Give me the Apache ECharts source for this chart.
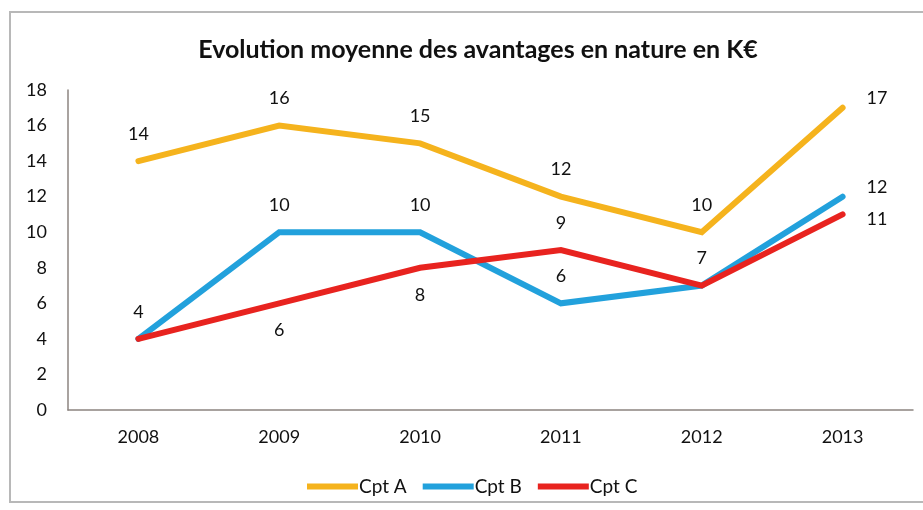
<!DOCTYPE html>
<html>
<head>
<meta charset="utf-8">
<script src="https://cdn.jsdelivr.net/npm/echarts@6/dist/echarts.min.js"></script>
<style>
  html, body { margin: 0; padding: 0; background: #fff; }
  .box { width: 923px; height: 510px; }
</style>
</head>
<body>
<div class="box"></div>
<script>
  // data
  const years = ["2008", "2009", "2010", "2011", "2012", "2013"];
  const cptA = [14, 16, 15, 12, 10, 17];
  const cptB = [4, 10, 10, 6, 7, 12];
  const cptC = [4, 6, 8, 9, 7, 11];
  // where each point's label sits
  const posA = ["top", "top", "top", "top", "top", "right"];
  const posB = ["top", "top", "top", "top", "top", "right"];
  const posC = ["none", "bottom", "bottom", "top", "none", "right"];
  const lastOffset = { "Cpt A": [6, -10], "Cpt B": [6, -9], "Cpt C": [6, 5] };

  const textColor = "#111";
  const font = "Lato, 'Open Sans', sans-serif";

  function makeData(name, values, positions) {
    return values.map((v, i) => {
      const pos = positions[i];
      if (pos === "none") return { value: v, label: { show: false } };
      const label = { show: true, position: pos };
      if (pos === "right") {
        label.distance = 18;
        label.offset = lastOffset[name];
      }
      return { value: v, label: label };
    });
  }

  function makeSeries(name, values, positions, color) {
    return {
      name: name,
      type: "line",
      showSymbol: true,
      symbol: "circle",
      symbolSize: 0,
      lineStyle: { color: color, width: 6, cap: "round", join: "miter" },
      itemStyle: { color: color },
      label: {
        show: true,
        color: textColor,
        fontFamily: font,
        fontSize: 18,
        distance: 18
      },
      emphasis: { disabled: true },
      data: makeData(name, values, positions)
    };
  }

  const myChart = echarts.init(document.querySelector(".box"));

  const option = {
    animation: false,
    backgroundColor: "#ffffff",
    // grey frame round the chart
    graphic: [{
      type: "rect",
      shape: { x: 10, y: 12, width: 930, height: 490 },
      style: { fill: "none", stroke: "#b8b8b8", lineWidth: 2 },
      silent: true
    }],
    title: {
      text: "Evolution moyenne des avantages en nature en K€",
      left: 473,
      textAlign: "center",
      top: 32,
      textStyle: { fontFamily: font, fontWeight: "bold", fontSize: 25, color: textColor }
    },
    legend: {
      bottom: 9,
      left: 302,
      itemWidth: 51,
      itemHeight: 6,
      itemGap: 16,
      icon: "rect",
      textStyle: { fontFamily: font, fontSize: 19, color: textColor, padding: [0, 0, 0, -4] },
      data: ["Cpt A", "Cpt B", "Cpt C"]
    },
    grid: { left: 68, right: 10, top: 90, bottom: 100 },
    xAxis: {
      type: "category",
      boundaryGap: true,
      data: years,
      axisLine: { lineStyle: { color: "#8c8480", width: 1.5 } },
      axisTick: { show: false },
      axisLabel: { color: textColor, fontFamily: font, fontSize: 18, margin: 18 }
    },
    yAxis: {
      type: "value",
      min: 0,
      max: 18,
      interval: 2,
      axisLine: { show: true, lineStyle: { color: "#8c8480", width: 1.5 } },
      axisTick: { show: false },
      splitLine: { show: false },
      axisLabel: { color: textColor, fontFamily: font, fontSize: 18, margin: 21 }
    },
    series: [
      makeSeries("Cpt A", cptA, posA, "#f5b31d"),
      makeSeries("Cpt B", cptB, posB, "#22a1dc"),
      makeSeries("Cpt C", cptC, posC, "#e8231f")
    ]
  };

  myChart.setOption(option);
</script>
</body>
</html>
